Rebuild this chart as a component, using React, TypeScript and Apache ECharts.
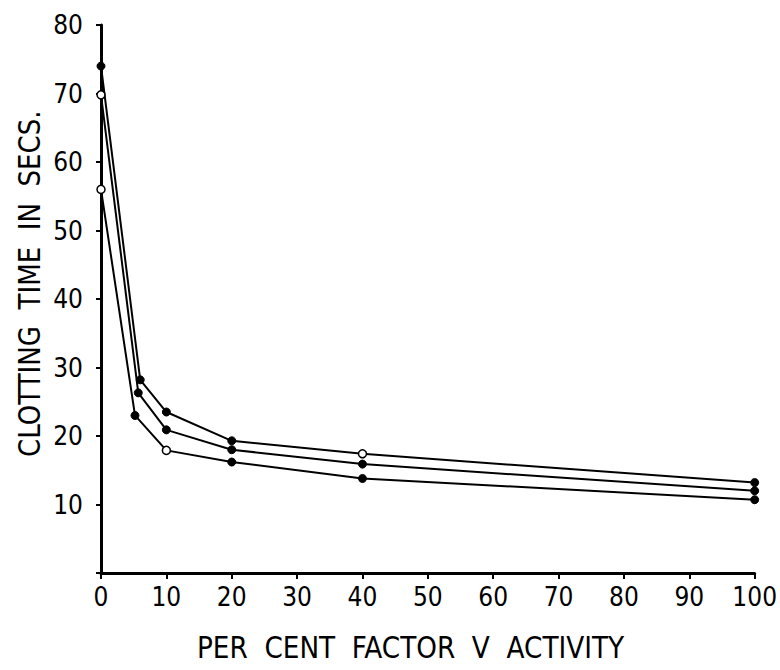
import React, { useEffect, useRef } from "react";
import * as echarts from "echarts";

const xTicks = [0, 10, 20, 30, 40, 50, 60, 70, 80, 90, 100];
const yTicks = [10, 20, 30, 40, 50, 60, 70, 80];

const topX = [0, 6, 10, 20, 40, 100];
const topY = [74, 28.2, 23.5, 19.3, 17.4, 13.2];
const topOpen = [false, false, false, false, true, false];

const midX = [0, 5.7, 10, 20, 40, 100];
const midY = [69.8, 26.3, 20.9, 18.0, 15.9, 12.0];
const midOpen = [true, false, false, false, false, false];

const lowX = [0, 5.2, 10, 20, 40, 100];
const lowY = [56, 23, 17.9, 16.2, 13.8, 10.7];
const lowOpen = [true, false, true, false, false, false];

const xTitle = "PER  CENT  FACTOR  V  ACTIVITY";
const yTitle = "CLOTTING  TIME  IN  SECS.";

const FONT = "'DejaVu Sans Condensed', 'DejaVu Sans', sans-serif";

function build(xs: number[], ys: number[], open: boolean[]) {
  return xs.map((x, i) => ({
    value: [x, ys[i]],
    itemStyle: open[i]
      ? { color: "#fff", borderColor: "#000", borderWidth: 1.5 }
      : { color: "#000", borderColor: "#000", borderWidth: 1 },
  }));
}

export default function App() {
  const ref = useRef<HTMLDivElement>(null);
  useEffect(() => {
    document.body.style.margin = "0";
    if (!ref.current) return;
    const chart = echarts.init(ref.current, undefined, { renderer: "svg" });
    const series = [
      [topX, topY, topOpen],
      [midX, midY, midOpen],
      [lowX, lowY, lowOpen],
    ].map(([xs, ys, op]) => ({
      type: "line",
      data: build(xs as number[], ys as number[], op as boolean[]),
      symbol: "circle",
      symbolSize: 8,
      lineStyle: { color: "#000", width: 2 },
      z: 3,
    }));
    chart.setOption({
      animation: false,
      backgroundColor: "#fff",
      grid: { left: 101, right: 24, top: 25, bottom: 97, containLabel: false },
      xAxis: {
        type: "value",
        min: 0,
        max: 100,
        interval: 10,
        splitLine: { show: false },
        axisLine: { lineStyle: { color: "#000", width: 3 } },
        axisTick: { length: 6, lineStyle: { color: "#000", width: 2 } },
        axisLabel: {
          color: "#000",
          fontSize: 26,
          fontFamily: FONT,
          margin: 11,
          formatter: (v: number) => (xTicks.includes(v) ? String(v) : ""),
        },
      },
      yAxis: {
        type: "value",
        min: 0,
        max: 80,
        interval: 10,
        splitLine: { show: false },
        axisLine: { lineStyle: { color: "#000", width: 3 } },
        axisTick: { length: 5, lineStyle: { color: "#000", width: 2 } },
        axisLabel: {
          color: "#000",
          fontSize: 26,
          fontFamily: FONT,
          margin: 18,
          formatter: (v: number) => (yTicks.includes(v) ? String(v) : ""),
        },
      },
      graphic: [
        {
          type: "text",
          x: 197,
          y: 633,
          scaleX: 1.17,
          scaleY: 1.2,
          style: { text: xTitle, fontSize: 25, fontFamily: FONT, fill: "#000", textVerticalAlign: "top" },
        },
        {
          type: "text",
          x: 15,
          y: 457,
          rotation: Math.PI / 2,
          scaleX: 1.16,
          scaleY: 1.2,
          style: { text: yTitle, fontSize: 25, fontFamily: FONT, fill: "#000", textVerticalAlign: "top" },
        },
      ],
      series,
    });
    return () => chart.dispose();
  }, []);
  return <div ref={ref} style={{ width: 780, height: 670 }} />;
}
